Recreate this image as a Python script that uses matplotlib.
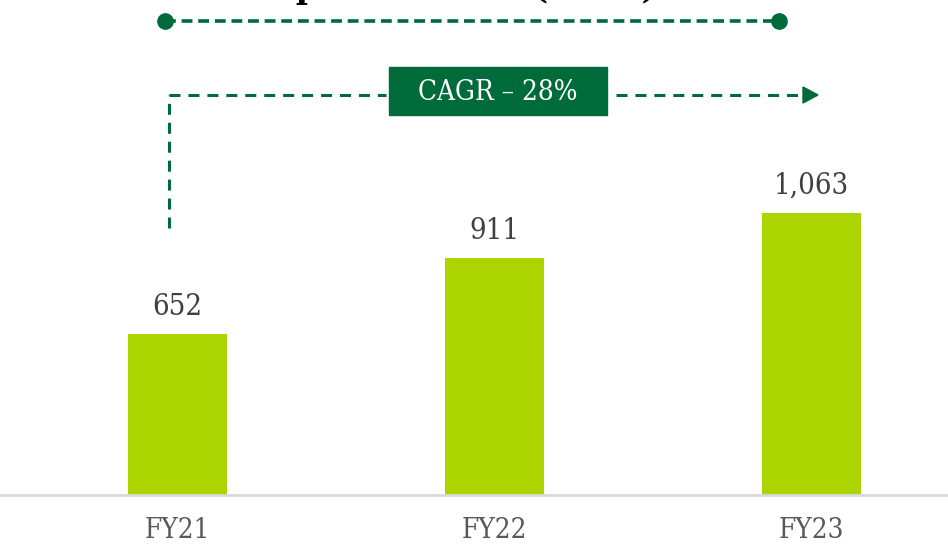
import matplotlib.pyplot as plt
from matplotlib.lines import Line2D
from matplotlib.patches import Rectangle, Polygon

# Data
years = ["FY21", "FY22", "FY23"]
values = [652, 911, 1063]
value_labels = ["652", "911", "1,063"]
cagr_text = "CAGR \u2013 28%"
title_text = "Deposits Trend (Rs cr)"

BAR = "#ABD400"
GREEN = "#006B3A"
GREY = "#595959"
W, H = 948, 544

plt.rcParams["font.family"] = ["DejaVu Serif"]
plt.rcParams["font.stretch"] = "condensed"

fig = plt.figure(figsize=(W / 100, H / 100), dpi=100)
ax = fig.add_axes([0, 49 / H, 1, 495 / H])

x = list(range(len(years)))
ax.bar(x, values, width=0.312, color=BAR, zorder=2)
ax.set_xlim(-0.56, 2.43)
ax.set_ylim(106, 1784)

for xi, v, lab in zip(x, values, value_labels):
    ax.annotate(lab, (xi, v), xytext=(0, 13.5), textcoords="offset points",
                ha="center", va="baseline", fontsize=21, color="#404040")

ax.set_xticks(x)
ax.set_xticklabels(years, fontsize=20, color=GREY)
ax.tick_params(axis="x", length=0, pad=16)
ax.set_yticks([])
for s in ["top", "left", "right"]:
    ax.spines[s].set_visible(False)
ax.spines["bottom"].set_color("#D9D9D9")
ax.spines["bottom"].set_linewidth(2)


def fx(px):
    return px / W


def fy(py):
    return 1 - py / H


# title (cut off at the top edge, only descenders show)
fig.text(fx(247), fy(-2), title_text, fontsize=26, fontweight="bold",
         color="black", ha="left", va="baseline")

# top bracket line with dots
fig.add_artist(Line2D([fx(165), fx(779)], [fy(21), fy(21)], color=GREEN,
                      lw=2.6, linestyle=(0, (3, 1.6))))
fig.add_artist(Line2D([fx(165), fx(779)], [fy(21), fy(21)], color=GREEN,
                      lw=0, marker="o", markersize=11))

# CAGR arrow
dash = (0, (3.6, 2.6))
fig.add_artist(Line2D([fx(169), fx(169)], [fy(228), fy(95)], color=GREEN,
                      lw=2.2, linestyle=dash))
fig.add_artist(Line2D([fx(169), fx(386)], [fy(95), fy(95)], color=GREEN,
                      lw=2.2, linestyle=dash))
fig.add_artist(Line2D([fx(616), fx(800)], [fy(95), fy(95)], color=GREEN,
                      lw=2.2, linestyle=dash))
fig.add_artist(Polygon([[fx(803), fy(87)], [fx(818), fy(95)], [fx(803), fy(103)]],
                       closed=True, color=GREEN, transform=fig.transFigure))

fig.add_artist(Rectangle((fx(389), fy(115)), fx(607) - fx(389), fy(67) - fy(115),
                         color=GREEN, transform=fig.transFigure))
fig.text(fx(498), fy(92), cagr_text, fontsize=20, color="white",
         ha="center", va="center")

fig.savefig("out.png", dpi=100)
